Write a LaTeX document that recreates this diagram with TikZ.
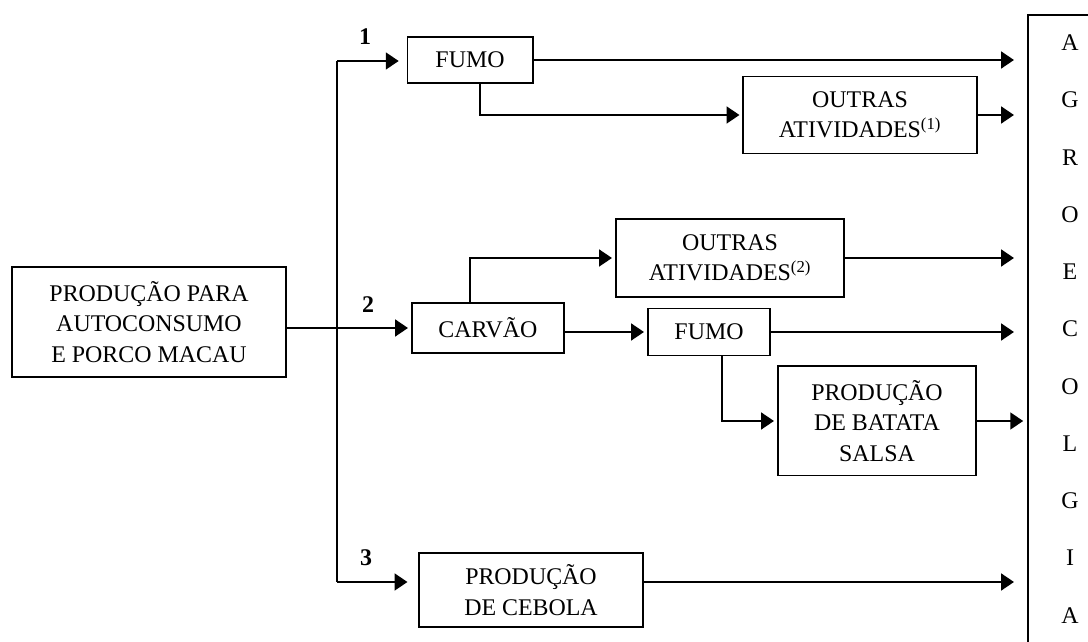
\documentclass[tikz,border=0pt]{standalone}
\usepackage{fontspec}
\setmainfont{Liberation Serif}
\usetikzlibrary{positioning, arrows.meta}

\begin{document}
\begin{tikzpicture}[
  x=0.025cm, y=-0.025cm,
  stage/.style={draw=black, line width=1.4pt, inner sep=0pt, outer sep=0pt,
                align=center, font=\fontsize{17}{21.5}\selectfont},
  flow/.style={-{Triangle[length=0.32cm, width=0.42cm]}, line width=1.4pt,
               shorten >=0.1cm},
  tooutput/.style={flow, shorten >=0.35cm},
  trunk/.style={line width=1.4pt},
  num/.style={font=\fontsize{17}{17}\selectfont\bfseries},
]
  \useasboundingbox (0,0) rectangle (1088,642);

  % Starting point
  \node[stage, minimum width=6.85cm, minimum height=2.75cm] (prod) at (149,322)
    {PRODUÇÃO PARA\\AUTOCONSUMO\\ E PORCO MACAU};

  % Output box on the right
  \node[stage, minimum width=2.1cm, minimum height=15.7cm,
        font=\fontsize{17}{40.7}\selectfont] (agro) at (1070,329)
    {A\\G\\R\\O\\E\\C\\O\\L\\G\\I\\A};

  % Path 1
  \node[stage, minimum width=3.125cm, minimum height=1.15cm] (fumoA) at (470,60) {FUMO};
  \node[stage, minimum width=5.825cm, minimum height=1.925cm] (outrasA) at (860,115)
    {OUTRAS\\ATIVIDADES\textsuperscript{(1)}};

  % Path 2
  \node[stage, minimum width=3.8cm, minimum height=1.25cm] (carvao) at (488,328) {CARVÃO};
  \node[stage, minimum width=5.7cm, minimum height=1.95cm] (outrasB) at (730,258)
    {OUTRAS\\ATIVIDADES\textsuperscript{(2)}};
  \node[stage, minimum width=3.05cm, minimum height=1.175cm] (fumoB) at (709,332) {FUMO};
  \node[stage, minimum width=4.95cm, minimum height=2.725cm] (batata) at (877,421)
    {PRODUÇÃO\\DE BATATA\\SALSA};

  % Path 3
  \node[stage, minimum width=5.575cm, minimum height=1.85cm] (cebola) at (531,590)
    {PRODUÇÃO\\DE CEBOLA};

  % Branch numbers
  \node[num] (n1) at (365,37) {1};
  \node[num] (n2) at (368,305) {2};
  \node[num] (n3) at (366,558) {3};

  % Trunk splitting into the three paths
  \coordinate (top) at (337,61);
  \coordinate (bot) at (337,582);
  \draw[trunk] (top) -- (bot);
  \draw[flow, shorten >=0.22cm] (top) -- (top -| fumoA.west);
  \draw[flow] (prod.east |- carvao) -- (carvao.west);
  \draw[flow, shorten >=0.3cm] (bot) -- (bot -| cebola.west);

  % Links between stages
  \draw[flow] ([xshift=0.25cm]fumoA.south) |- (outrasA);
  \draw[flow] ([xshift=-0.45cm]carvao.north) |- (outrasB);
  \draw[flow] (carvao.east |- fumoB) -- (fumoB.west);
  \draw[flow] ([xshift=0.325cm]fumoB.south) |- (batata);

  % Into AGROECOLOGIA
  \draw[tooutput] (fumoA) -- (fumoA -| agro.west);
  \draw[tooutput] (outrasA) -- (outrasA -| agro.west);
  \draw[tooutput] (outrasB) -- (outrasB -| agro.west);
  \draw[tooutput] (fumoB) -- (fumoB -| agro.west);
  \draw[flow, shorten >=0.12cm] (batata) -- (batata -| agro.west);
  \draw[tooutput] (cebola.east |- bot) -- (bot -| agro.west);
\end{tikzpicture}
\end{document}
